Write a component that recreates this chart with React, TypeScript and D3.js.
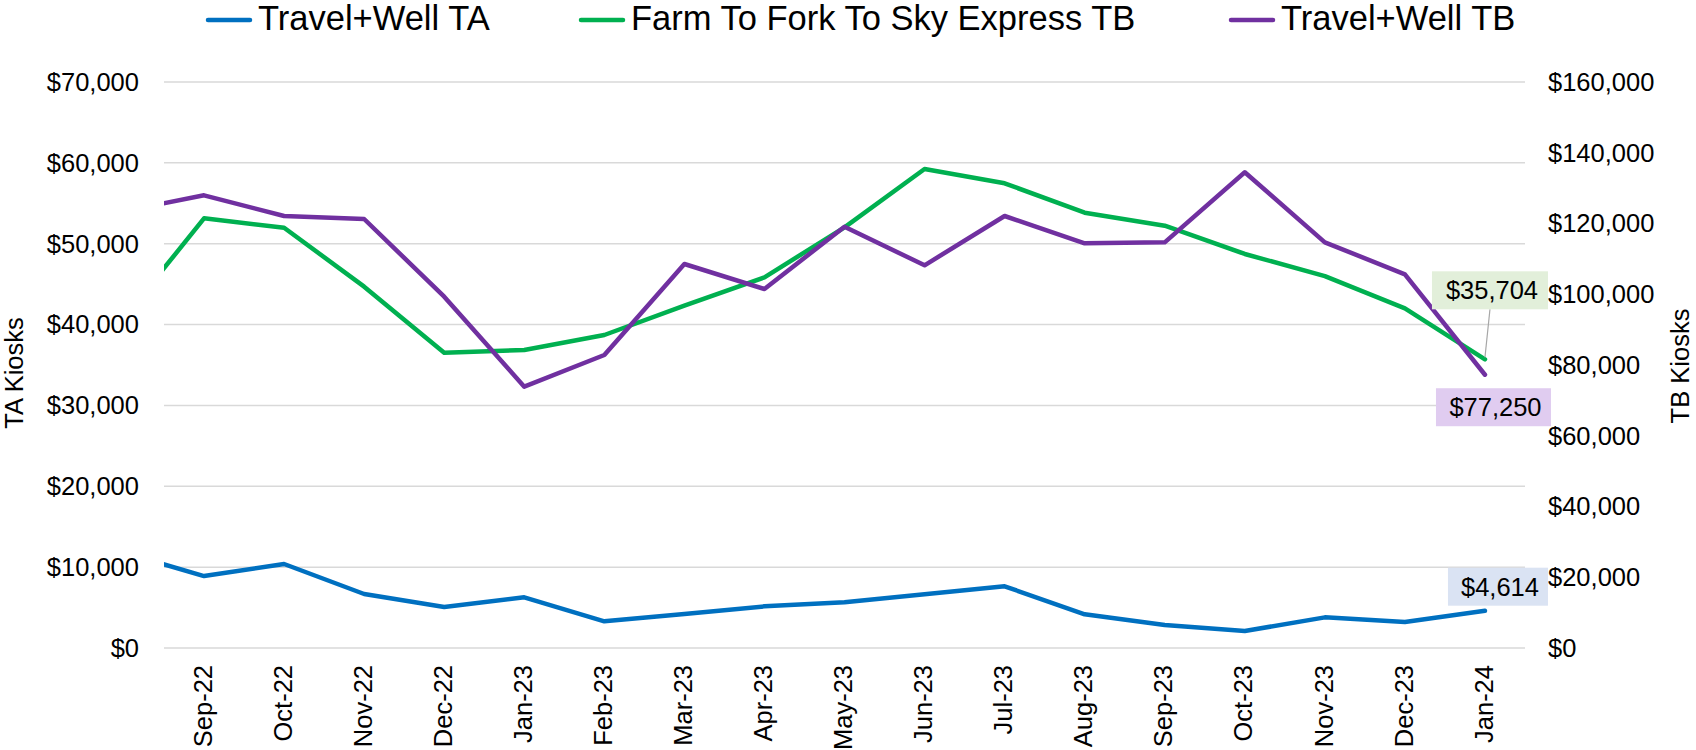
import React from "react";
import * as d3 from "d3";

const months = ["Aug-22","Sep-22","Oct-22","Nov-22","Dec-22","Jan-23","Feb-23","Mar-23","Apr-23","May-23","Jun-23","Jul-23","Aug-23","Sep-23","Oct-23","Nov-23","Dec-23","Jan-24"];
const travelWellTA = [11800, 8900, 10390, 6680, 5070, 6270, 3300, 4200, 5150, 5650, 6640, 7630, 4170, 2840, 2100, 3790, 3220, 4614];
const farmToForkTB = [40800, 53140, 51980, 44690, 36520, 36850, 38710, 42330, 45840, 52020, 59240, 57470, 53840, 52230, 48730, 46000, 42010, 35704];
const travelWellTB = [123450, 127970, 122120, 121270, 99310, 73870, 82830, 108550, 101490, 119100, 108180, 122120, 114400, 114680, 134470, 114680, 105640, 77250];
const leftTicks = [0, 10000, 20000, 30000, 40000, 50000, 60000, 70000];
const rightTicks = [0, 20000, 40000, 60000, 80000, 100000, 120000, 140000, 160000];
const seriesNames = ["Travel+Well TA", "Farm To Fork To Sky Express TB", "Travel+Well TB"];

const FONT = "'Liberation Sans', Arial, sans-serif";
const C_BLUE = "#0070C0";
const C_GREEN = "#00B050";
const C_PURPLE = "#7030A0";

export default function App() {
  const W = 1696, H = 750;
  const left = 164, right = 1525, top = 82, bottom = 648;
  const x = d3.scaleLinear().domain([0.5, months.length - 0.5]).range([left, right]);
  const yL = d3.scaleLinear().domain([0, 70000]).range([bottom, top]);
  const yR = d3.scaleLinear().domain([0, 160000]).range([bottom, top]);
  const fmt = (v: number) => "$" + d3.format(",")(v);

  const lineL = d3.line<number>().x((_, i) => x(i)).y((d) => yL(d));
  const lineR = d3.line<number>().x((_, i) => x(i)).y((d) => yR(d));

  const series = [
    { name: seriesNames[0], color: C_BLUE, d: lineL(travelWellTA), lx: 206 },
    { name: seriesNames[1], color: C_GREEN, d: lineL(farmToForkTB), lx: 579 },
    { name: seriesNames[2], color: C_PURPLE, d: lineR(travelWellTB), lx: 1229 },
  ];

  const last = months.length - 1;
  const gEnd = { x: x(last), y: yL(farmToForkTB[last]) };
  const pEnd = { x: x(last), y: yR(travelWellTB[last]) };
  const bEnd = { x: x(last), y: yL(travelWellTA[last]) };

  const labels = [
    { text: fmt(farmToForkTB[last]), cx: gEnd.x + 5, cy: gEnd.y - 69, w: 116, fill: "#E2EFDA" },
    { text: fmt(travelWellTB[last]), cx: pEnd.x + 8.5, cy: pEnd.y + 32.5, w: 115, fill: "#E0CCF0" },
    { text: fmt(travelWellTA[last]), cx: bEnd.x + 13, cy: bEnd.y - 24, w: 100, fill: "#DAE3F3" },
  ];

  return (
    <svg width={W} height={H} style={{ position: "absolute", left: 0, top: 0, background: "#fff" }} fontFamily={FONT}>
      <defs>
        <clipPath id="plotClip">
          <rect x={left} y={0} width={right - left} height={H} />
        </clipPath>
      </defs>
      <rect x={0} y={0} width={W} height={H} fill="#fff" />
      {leftTicks.map((t) => (
        <line key={t} x1={left} x2={right} y1={yL(t)} y2={yL(t)} stroke="#D9D9D9" strokeWidth={1.5} />
      ))}
      {leftTicks.map((t) => (
        <text key={"l" + t} x={139} y={yL(t)} dy="0.35em" textAnchor="end" fontSize={25.5} fill="#000">{fmt(t)}</text>
      ))}
      {rightTicks.map((t) => (
        <text key={"r" + t} x={1548} y={yR(t)} dy="0.35em" textAnchor="start" fontSize={25.5} fill="#000">{fmt(t)}</text>
      ))}
      {months.map((m, i) => {
        const px = x(i);
        if (px < left || px > right) return null;
        return (
          <text key={m} transform={`translate(${px},665) rotate(-90)`} dy="0.3em" textAnchor="end" fontSize={25.5} fill="#000">{m}</text>
        );
      })}
      <text transform={`translate(23,373) rotate(-90)`} textAnchor="middle" fontSize={25.5} fill="#000">TA Kiosks</text>
      <text transform={`translate(1689,366) rotate(-90)`} textAnchor="middle" fontSize={25.5} fill="#000">TB Kiosks</text>
      <g clipPath="url(#plotClip)">
        {series.map((s) => (
          <path key={s.name} d={s.d || ""} fill="none" stroke={s.color} strokeWidth={4.5} strokeLinejoin="round" strokeLinecap="round" />
        ))}
      </g>
      <line x1={gEnd.x + 5} y1={gEnd.y - 50} x2={gEnd.x} y2={gEnd.y - 2} stroke="#A6A6A6" strokeWidth={1.2} />
      {labels.map((l) => (
        <g key={l.text}>
          <rect x={l.cx - l.w / 2} y={l.cy - 19} width={l.w} height={38} fill={l.fill} />
          <text x={l.cx + 2} y={l.cy} dy="0.35em" textAnchor="middle" fontSize={25.5} fill="#000">{l.text}</text>
        </g>
      ))}
      {series.map((s) => (
        <g key={"lg" + s.name}>
          <line x1={s.lx + 2} x2={s.lx + 44} y1={20} y2={20} stroke={s.color} strokeWidth={4.5} strokeLinecap="round" />
          <text x={s.lx + 52} y={30} fontSize={34.5} fill="#000">{s.name}</text>
        </g>
      ))}
    </svg>
  );
}
